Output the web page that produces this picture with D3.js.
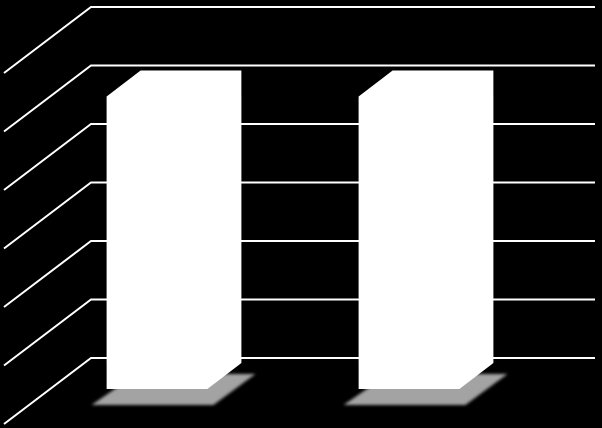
<!DOCTYPE html>
<html>
<head>
<meta charset="utf-8">
<script src="https://cdn.jsdelivr.net/npm/d3@7"></script>
<style>
  html, body { margin: 0; padding: 0; background: #000; overflow: hidden; }
  svg { display: block; }
</style>
</head>
<body>
<svg id="chart"></svg>
<script>
// the picture has no labels, so the category names are only keys
const categories = ["first", "second"];
const values = [5, 5];
const gridTicks = [0, 1, 2, 3, 4, 5, 6];

const width = 602, height = 428;
const wallDx = 87, wallDy = 66;   // side wall of the 3d box
const barDx = 34, barDy = 26;     // depth of a bar

const svg = d3.select("#chart").attr("width", width).attr("height", height);

const defs = svg.append("defs");
defs.append("filter").attr("id", "soft")
    .attr("x", "-10%").attr("y", "-20%").attr("width", "120%").attr("height", "140%")
  .append("feGaussianBlur").attr("stdDeviation", 1.8);

const xScale = d3.scaleBand()
    .domain(categories)
    .range([31, 535])
    .paddingInner(0.6)
    .paddingOuter(0.3);

const yScale = d3.scaleLinear()
    .domain([0, 6])
    .range([358, 7]);

// grid lines, floor and wall together
svg.append("g").selectAll("path")
  .data(gridTicks)
  .join("path")
    .attr("fill", "none")
    .attr("stroke", "#fff")
    .attr("stroke-width", 2)
    .attr("d", d => {
      const y = yScale(d);
      return `M4,${y + wallDy}L${4 + wallDx},${y}H595`;
    });

const bars = categories.map((c, i) => ({ c, v: values[i] }));

// shadow on the floor
svg.append("g").selectAll("path")
  .data(bars)
  .join("path")
    .attr("fill", "#a3a3a3")
    .attr("filter", "url(#soft)")
    .attr("d", d => {
      const x0 = xScale(d.c), x1 = x0 + xScale.bandwidth();
      const y0 = yScale(0) + 5 + barDy;
      return `M${x0 - 15},${y0 + 16}L${x1 + 6},${y0 + 16}L${x1 + 48},${y0 - 15}L${x0 + 30},${y0 - 15}Z`;
    });

// bars are one flat white shape
svg.append("g").selectAll("path")
  .data(bars)
  .join("path")
    .attr("fill", "#fff")
    .attr("d", d => {
      const x0 = xScale(d.c), x1 = x0 + xScale.bandwidth();
      const top = yScale(d.v) + 5, bottom = yScale(0) + 5;
      return `M${x0},${top + barDy}L${x0 + barDx},${top}H${x1 + barDx}V${bottom}L${x1},${bottom + barDy}H${x0}Z`;
    });
</script>
</body>
</html>
